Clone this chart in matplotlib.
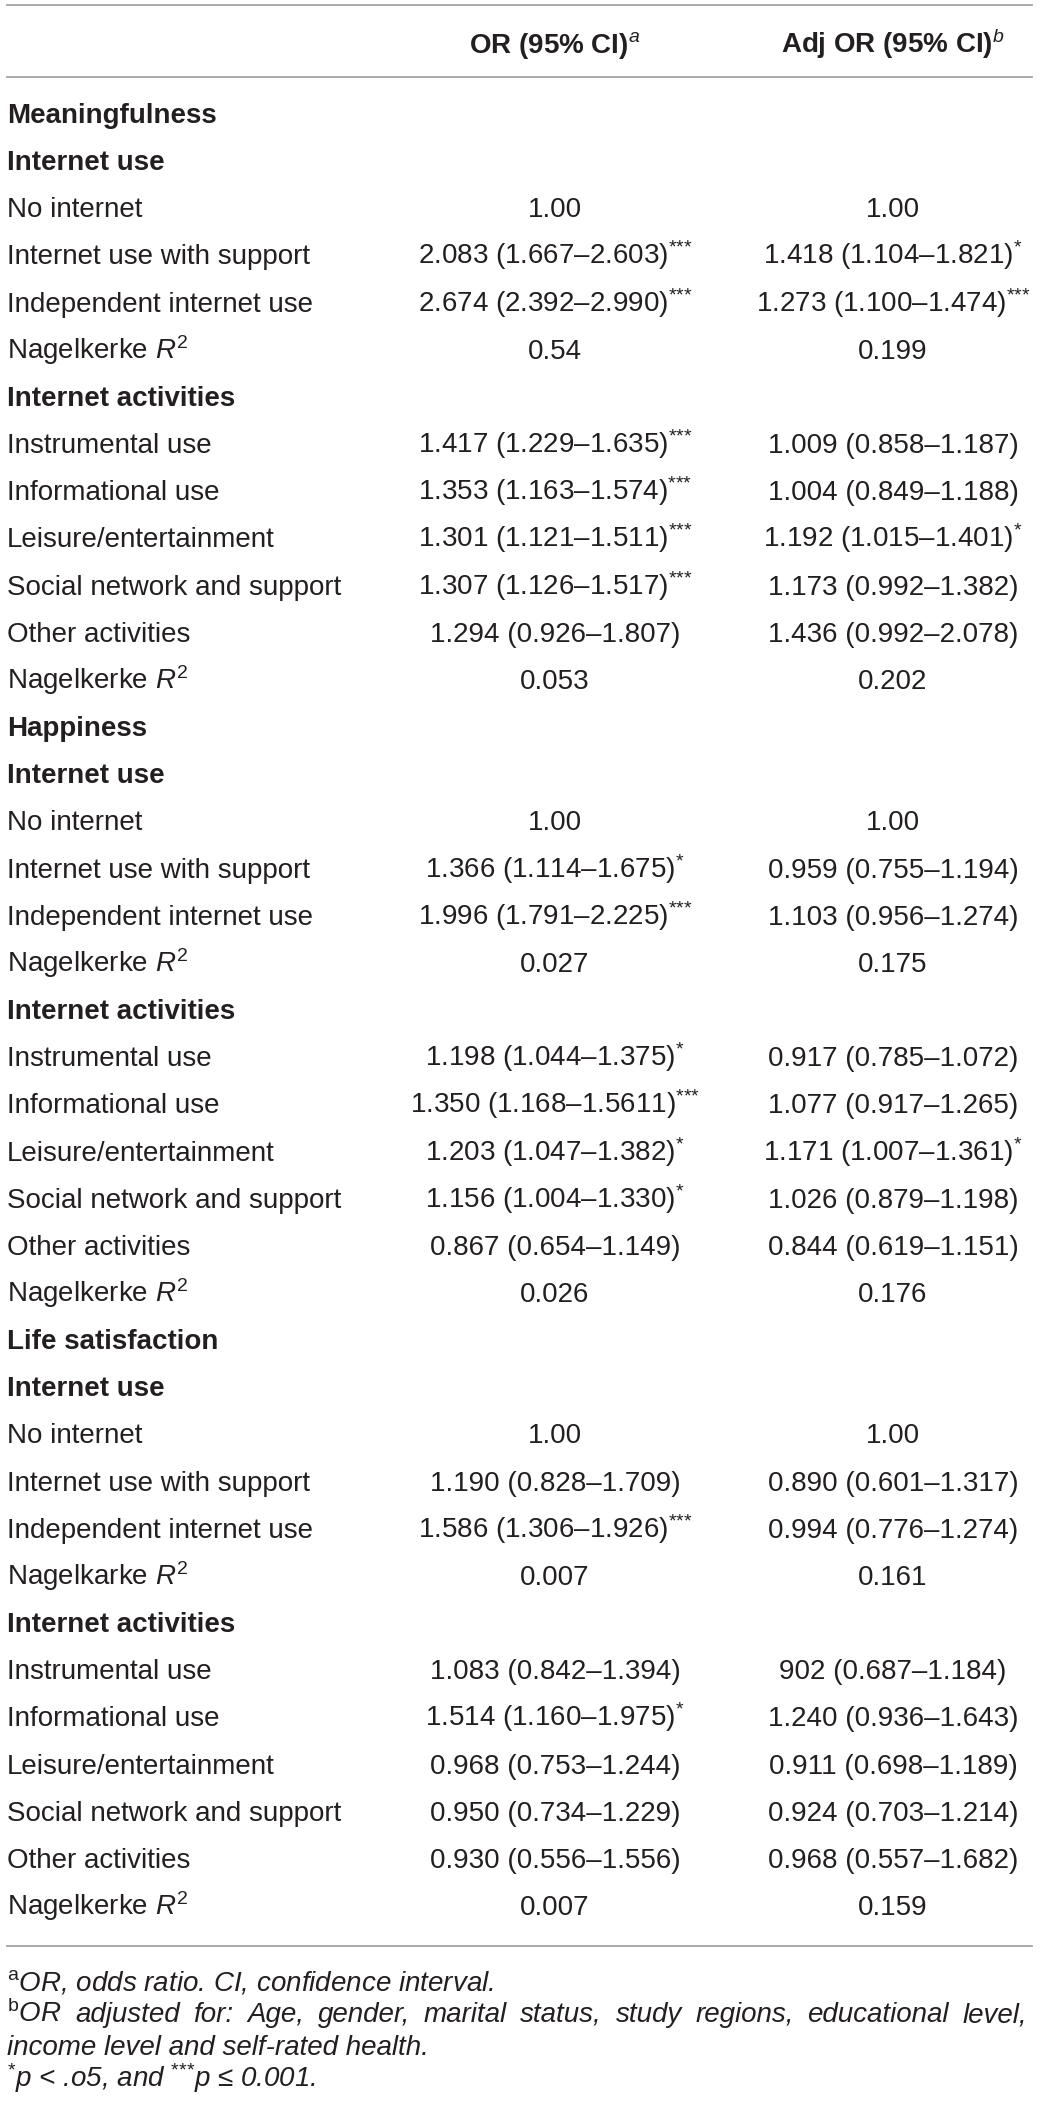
import matplotlib
matplotlib.use("Agg")
import matplotlib.pyplot as plt

plt.rcParams['font.family'] = ['Liberation Sans', 'DejaVu Sans']
plt.rcParams['mathtext.fontset'] = 'custom'
plt.rcParams['mathtext.rm'] = 'Liberation Sans'
plt.rcParams['mathtext.it'] = 'Liberation Sans:italic'
plt.rcParams['mathtext.bf'] = 'Liberation Sans:bold'
plt.rcParams['mathtext.sf'] = 'Liberation Sans'

# ---------------- data ----------------
col_headers = ["OR (95% CI)", "Adj OR (95% CI)"]
col_header_marks = ["a", "b"]

row_labels = [
    "Meaningfulness", "Internet use", "No internet", "Internet use with support",
    "Independent internet use", "Nagelkerke", "Internet activities",
    "Instrumental use", "Informational use", "Leisure/entertainment",
    "Social network and support", "Other activities", "Nagelkerke",
    "Happiness", "Internet use", "No internet", "Internet use with support",
    "Independent internet use", "Nagelkerke", "Internet activities",
    "Instrumental use", "Informational use", "Leisure/entertainment",
    "Social network and support", "Other activities", "Nagelkerke",
    "Life satisfaction", "Internet use", "No internet", "Internet use with support",
    "Independent internet use", "Nagelkarke", "Internet activities",
    "Instrumental use", "Informational use", "Leisure/entertainment",
    "Social network and support", "Other activities", "Nagelkerke",
]
# h = bold heading, r = plain row, n = Nagelkerke R^2 row
row_kinds = [
    "h", "h", "r", "r", "r", "n", "h", "r", "r", "r", "r", "r", "n",
    "h", "h", "r", "r", "r", "n", "h", "r", "r", "r", "r", "r", "n",
    "h", "h", "r", "r", "r", "n", "h", "r", "r", "r", "r", "r", "n",
]
or_est = [
    "", "", "1.00", "2.083 (1.667–2.603)", "2.674 (2.392–2.990)", "0.54", "",
    "1.417 (1.229–1.635)", "1.353 (1.163–1.574)", "1.301 (1.121–1.511)",
    "1.307 (1.126–1.517)", "1.294 (0.926–1.807)", "0.053",
    "", "", "1.00", "1.366 (1.114–1.675)", "1.996 (1.791–2.225)", "0.027", "",
    "1.198 (1.044–1.375)", "1.350 (1.168–1.5611)", "1.203 (1.047–1.382)",
    "1.156 (1.004–1.330)", "0.867 (0.654–1.149)", "0.026",
    "", "", "1.00", "1.190 (0.828–1.709)", "1.586 (1.306–1.926)", "0.007", "",
    "1.083 (0.842–1.394)", "1.514 (1.160–1.975)", "0.968 (0.753–1.244)",
    "0.950 (0.734–1.229)", "0.930 (0.556–1.556)", "0.007",
]
or_sig = [
    "", "", "", "***", "***", "", "",
    "***", "***", "***", "***", "", "",
    "", "", "", "*", "***", "", "",
    "*", "***", "*", "*", "", "",
    "", "", "", "", "***", "", "",
    "", "*", "", "", "", "",
]
adj_est = [
    "", "", "1.00", "1.418 (1.104–1.821)", "1.273 (1.100–1.474)", "0.199", "",
    "1.009 (0.858–1.187)", "1.004 (0.849–1.188)", "1.192 (1.015–1.401)",
    "1.173 (0.992–1.382)", "1.436 (0.992–2.078)", "0.202",
    "", "", "1.00", "0.959 (0.755–1.194)", "1.103 (0.956–1.274)", "0.175", "",
    "0.917 (0.785–1.072)", "1.077 (0.917–1.265)", "1.171 (1.007–1.361)",
    "1.026 (0.879–1.198)", "0.844 (0.619–1.151)", "0.176",
    "", "", "1.00", "0.890 (0.601–1.317)", "0.994 (0.776–1.274)", "0.161", "",
    "902 (0.687–1.184)", "1.240 (0.936–1.643)", "0.911 (0.698–1.189)",
    "0.924 (0.703–1.214)", "0.968 (0.557–1.682)", "0.159",
]
adj_sig = [
    "", "", "", "*", "***", "", "",
    "", "", "*", "", "", "",
    "", "", "", "", "", "", "",
    "", "", "*", "", "", "",
    "", "", "", "", "", "", "",
    "", "", "", "", "", "",
]
foot_a = "OR, odds ratio. CI, confidence interval."
foot_b_words = ["OR", "adjusted", "for:", "Age,", "gender,", "marital", "status,",
                "study", "regions,", "educational", "level,"]
foot_b2 = "income level and self-rated health."

# ---------------- layout ----------------
W, H = 1046, 2108
fig = plt.figure(figsize=(W / 100, H / 100), dpi=100)
ax = fig.add_axes([0, 0, 1, 1])
ax.set_xlim(0, W)
ax.set_ylim(H, 0)
ax.axis('off')

TXT = '#231f20'
FS = 20
X_LABEL = 7
X_C1, X_C2 = 555, 893
Y_ROW0, DY = 113, 47.16
BASE = 10  # baseline offset below visual centre

line_kw = dict(color='#a3a3a3', lw=1.3)
ax.plot([7, 1032], [5, 5], **line_kw)
ax.plot([7, 1032], [77, 77], **line_kw)
ax.plot([7, 1032], [1946, 1946], **line_kw)


def sup(s, font=r"\mathrm"):
    # each char grouped so '*' is not spaced as a binary operator
    inner = "".join("{" + c + "}" for c in s)
    return "$^{" + font + "{" + inner + "}}$"


# header
for xc, h, m in zip([X_C1, X_C2], col_headers, col_header_marks):
    ax.text(xc, 43 + BASE, h + sup(m, r"\mathit"), ha='center', va='baseline',
            fontsize=FS, fontweight='bold', color=TXT)


def with_sig(est, sig):
    return est + sup(sig) if sig else est


for i, (lab, kind) in enumerate(zip(row_labels, row_kinds)):
    y = Y_ROW0 + i * DY + BASE
    if kind == "h":
        ax.text(X_LABEL, y, lab, ha='left', va='baseline', fontsize=FS,
                fontweight='bold', color=TXT)
        continue
    if kind == "n":
        lab = lab + r" $\mathit{R}^{\mathrm{2}}$"
    ax.text(X_LABEL, y, lab, ha='left', va='baseline', fontsize=FS, color=TXT)
    if or_est[i]:
        ax.text(X_C1, y, with_sig(or_est[i], or_sig[i]), ha='center', va='baseline',
                fontsize=FS, color=TXT)
    if adj_est[i]:
        ax.text(X_C2, y, with_sig(adj_est[i], adj_sig[i]), ha='center', va='baseline',
                fontsize=FS, color=TXT)

# footnotes
FY = [1980, 2012, 2045, 2077]
ax.text(X_LABEL, FY[0] + BASE, sup("a") + foot_a, ha='left', va='baseline',
        fontsize=FS, fontstyle='italic', color=TXT)

# justified line b
renderer = fig.canvas.get_renderer()
words = [sup("b") + foot_b_words[0]] + foot_b_words[1:]
objs = []
widths = []
for w in words:
    t = ax.text(0, FY[1] + BASE, w, ha='left', va='baseline', fontsize=FS,
                fontstyle='italic', color=TXT)
    objs.append(t)
    widths.append(t.get_window_extent(renderer).width)
x0, x1 = X_LABEL, 1027
gap = (x1 - x0 - sum(widths)) / (len(words) - 1)
xx = x0
for t, w in zip(objs, widths):
    t.set_x(xx)
    xx += w + gap

ax.text(X_LABEL, FY[2] + BASE, foot_b2, ha='left', va='baseline', fontsize=FS,
        fontstyle='italic', color=TXT)
ax.text(X_LABEL, FY[3] + BASE, sup("*") + "p < .o5, and " + sup("***") + "p ≤ 0.001.",
        ha='left', va='baseline', fontsize=FS, fontstyle='italic', color=TXT)

fig.savefig("out.png", dpi=100, facecolor='white')
